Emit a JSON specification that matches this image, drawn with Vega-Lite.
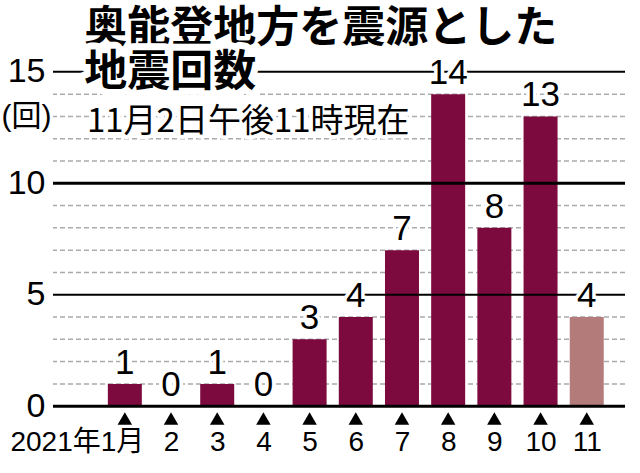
{
  "$schema": "https://vega.github.io/schema/vega-lite/v6.json",
  "width": 572,
  "height": 419,
  "autosize": {"type": "none"},
  "padding": {"left": 53, "top": 5, "right": 15, "bottom": 49},
  "background": "white",
  "config": {
    "view": {"stroke": null},
    "font": "Liberation Sans, Noto Sans CJK JP, sans-serif"
  },
  "data": {
    "values": [
      {"month": 1, "count": 1},
      {"month": 2, "count": 0},
      {"month": 3, "count": 1},
      {"month": 4, "count": 0},
      {"month": 5, "count": 3},
      {"month": 6, "count": 4},
      {"month": 7, "count": 7},
      {"month": 8, "count": 14},
      {"month": 9, "count": 8},
      {"month": 10, "count": 13},
      {"month": 11, "count": 4}
    ]
  },
  "layer": [
    {
      "data": {"values": [{"v": 1}, {"v": 2}, {"v": 3}, {"v": 4}, {"v": 6}, {"v": 7}, {"v": 8}, {"v": 9}, {"v": 11}, {"v": 12}, {"v": 13}, {"v": 14}]},
      "mark": {"type": "rule", "color": "#ababab", "strokeWidth": 1.5, "strokeDash": [5, 3]},
      "encoding": {
        "y": {
          "field": "v",
          "type": "quantitative",
          "scale": {"domain": [-0.8, 18], "nice": false, "zero": false},
          "axis": {
            "values": [0, 5, 10, 15],
            "domain": false,
            "ticks": false,
            "grid": false,
            "labelFontSize": 34,
            "labelColor": "black",
            "labelPadding": 8,
            "labelFlush": false,
            "labelOverlap": false,
            "title": "(回)",
            "titleAngle": 0,
            "titleX": -27,
            "titleY": 111,
            "titleAlign": "center",
            "titleBaseline": "middle",
            "titleFontSize": 30,
            "titleFontWeight": "normal",
            "titleColor": "black"
          }
        }
      }
    },
    {
      "mark": {"type": "bar", "width": 34},
      "encoding": {
        "x": {
          "field": "month",
          "type": "quantitative",
          "scale": {"domain": [-0.447, 11.72], "nice": false, "zero": false},
          "axis": {
            "values": [1, 2, 3, 4, 5, 6, 7, 8, 9, 10, 11],
            "labelExpr": "datum.value === 1 ? '2021年1月' : datum.label",
            "domain": false,
            "ticks": false,
            "grid": false,
            "title": null,
            "labelFontSize": 28,
            "labelColor": "black",
            "labelPadding": 4,
            "labelAlign": {"condition": {"test": "datum.value === 1", "value": "right"}, "value": "center"},
            "labelOffset": {"condition": {"test": "datum.value === 1", "value": 19}, "value": 0},
            "labelFlush": false,
            "labelOverlap": false,
            "labelBound": false
          }
        },
        "y": {"field": "count", "type": "quantitative"},
        "y2": {"datum": 0},
        "color": {
          "condition": {"test": "datum.month === 11", "value": "#b47b7b"},
          "value": "#7d0a3e"
        }
      }
    },
    {
      "data": {"values": [{"v": 0}, {"v": 5}, {"v": 10}, {"v": 15}]},
      "mark": {"type": "rule", "color": "black"},
      "encoding": {
        "y": {"field": "v", "type": "quantitative"},
        "size": {"condition": {"test": "datum.v === 0 || datum.v === 10", "value": 3}, "value": 2}
      }
    },
    {
      "mark": {"type": "text", "baseline": "bottom", "dy": -3, "fontSize": 35, "fill": "white", "stroke": "white", "strokeWidth": 7, "strokeJoin": "round"},
      "encoding": {
        "x": {"field": "month", "type": "quantitative"},
        "y": {"field": "count", "type": "quantitative"},
        "text": {"field": "count"}
      }
    },
    {
      "mark": {"type": "text", "baseline": "bottom", "dy": -3, "fontSize": 35, "fill": "black"},
      "encoding": {
        "x": {"field": "month", "type": "quantitative"},
        "y": {"field": "count", "type": "quantitative"},
        "text": {"field": "count"}
      }
    },
    {
      "mark": {"type": "point", "shape": "triangle-up", "filled": true, "color": "black", "size": 210, "opacity": 1},
      "encoding": {
        "x": {"field": "month", "type": "quantitative"},
        "y": {"datum": -0.55, "type": "quantitative"}
      }
    },
    {
      "data": {"values": [{}]},
      "mark": {"type": "text", "align": "left", "baseline": "middle", "font": "Noto Sans CJK JP", "fontSize": 43, "fontWeight": "bold", "fill": "black"},
      "encoding": {
        "x": {"datum": 0.12, "type": "quantitative"},
        "y": {"datum": 16.92, "type": "quantitative"},
        "text": {"value": "奥能登地方を震源とした"}
      }
    },
    {
      "data": {"values": [{}]},
      "mark": {"type": "text", "align": "left", "baseline": "middle", "font": "Noto Sans CJK JP", "fontSize": 43, "fontWeight": "bold", "fill": "white", "stroke": "white", "strokeWidth": 14, "strokeJoin": "round"},
      "encoding": {
        "x": {"datum": 0.12, "type": "quantitative"},
        "y": {"datum": 14.93, "type": "quantitative"},
        "text": {"value": "地震回数"}
      }
    },
    {
      "data": {"values": [{}]},
      "mark": {"type": "text", "align": "left", "baseline": "middle", "font": "Noto Sans CJK JP", "fontSize": 43, "fontWeight": "bold", "fill": "black"},
      "encoding": {
        "x": {"datum": 0.12, "type": "quantitative"},
        "y": {"datum": 14.93, "type": "quantitative"},
        "text": {"value": "地震回数"}
      }
    },
    {
      "data": {"values": [{}]},
      "mark": {"type": "text", "align": "left", "baseline": "middle", "font": "Noto Sans CJK JP", "fontSize": 33, "fontWeight": "normal", "fill": "white", "stroke": "white", "strokeWidth": 8, "strokeJoin": "round"},
      "encoding": {
        "x": {"datum": 0.18, "type": "quantitative"},
        "y": {"datum": 12.75, "type": "quantitative"},
        "text": {"value": "11月2日午後11時現在"}
      }
    },
    {
      "data": {"values": [{}]},
      "mark": {"type": "text", "align": "left", "baseline": "middle", "font": "Noto Sans CJK JP", "fontSize": 33, "fontWeight": "normal", "fill": "black"},
      "encoding": {
        "x": {"datum": 0.18, "type": "quantitative"},
        "y": {"datum": 12.75, "type": "quantitative"},
        "text": {"value": "11月2日午後11時現在"}
      }
    }
  ]
}
